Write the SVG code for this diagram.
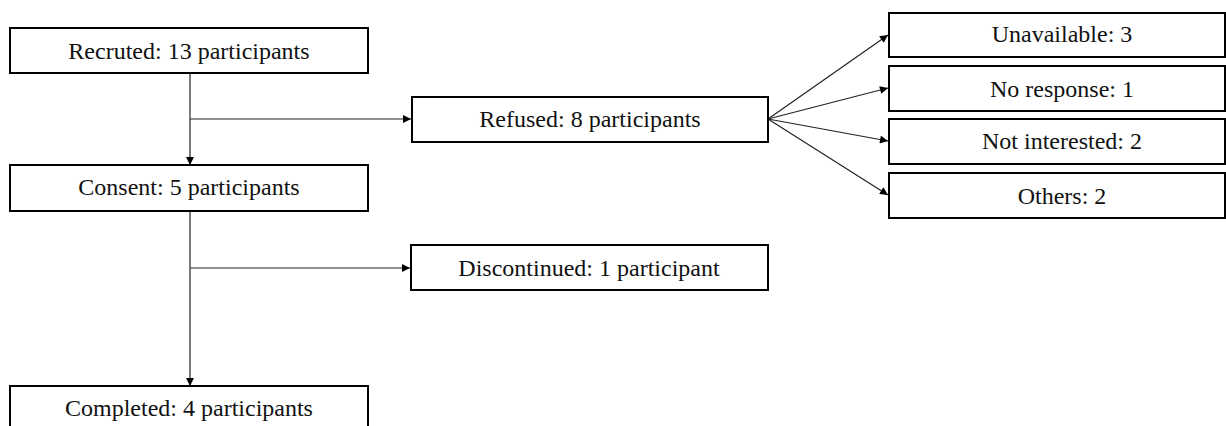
<svg xmlns="http://www.w3.org/2000/svg" width="1226" height="426" viewBox="0 0 1226 426">
<style>
.box{fill:#fff;stroke:#000;stroke-width:2}
.lbl{font-family:"Liberation Serif","Times New Roman",serif;font-size:24px;fill:#111;text-anchor:middle}
.conn{stroke:#222;stroke-width:1.2;fill:none}
</style>
<defs>
<marker id="ah" viewBox="0 0 10 10" refX="10" refY="5" markerWidth="9" markerHeight="8" markerUnits="userSpaceOnUse" orient="auto">
<path d="M0,0 L10,5 L0,10 z" fill="#000"/>
</marker>
</defs>
<rect width="1226" height="426" fill="#fff"/>
<g id="connectors">
<line class="conn" x1="190" y1="73" x2="190" y2="165" marker-end="url(#ah)"/>
<line class="conn" x1="190" y1="119" x2="411" y2="119" marker-end="url(#ah)"/>
<line class="conn" x1="190" y1="211" x2="190" y2="386" marker-end="url(#ah)"/>
<line class="conn" x1="190" y1="268" x2="410" y2="268" marker-end="url(#ah)"/>
<line class="conn" x1="768" y1="119" x2="888" y2="35" marker-end="url(#ah)"/>
<line class="conn" x1="768" y1="119" x2="888" y2="88" marker-end="url(#ah)"/>
<line class="conn" x1="768" y1="119" x2="888" y2="141" marker-end="url(#ah)"/>
<line class="conn" x1="768" y1="119" x2="888" y2="195" marker-end="url(#ah)"/>
</g>
<g id="recruited"><rect class="box" x="10" y="28" width="358" height="45"/><text class="lbl" x="189" y="59">Recruted: 13 participants</text></g>
<g id="consent"><rect class="box" x="10" y="165" width="358" height="46"/><text class="lbl" x="189" y="195">Consent: 5 participants</text></g>
<g id="completed"><rect class="box" x="10" y="386" width="358" height="50"/><text class="lbl" x="189" y="416">Completed: 4 participants</text></g>
<g id="refused"><rect class="box" x="412" y="97" width="356" height="45"/><text class="lbl" x="590" y="127">Refused: 8 participants</text></g>
<g id="discontinued"><rect class="box" x="411" y="245" width="357" height="45"/><text class="lbl" x="589" y="276">Discontinued: 1 participant</text></g>
<g id="unavailable"><rect class="box" x="889" y="13" width="336" height="44"/><text class="lbl" x="1062" y="42">Unavailable: 3</text></g>
<g id="noresponse"><rect class="box" x="889" y="66" width="336" height="45"/><text class="lbl" x="1062" y="97">No response: 1</text></g>
<g id="notinterested"><rect class="box" x="889" y="119" width="336" height="45"/><text class="lbl" x="1062" y="149">Not interested: 2</text></g>
<g id="others"><rect class="box" x="889" y="173" width="336" height="45"/><text class="lbl" x="1062" y="204">Others: 2</text></g>
</svg>
